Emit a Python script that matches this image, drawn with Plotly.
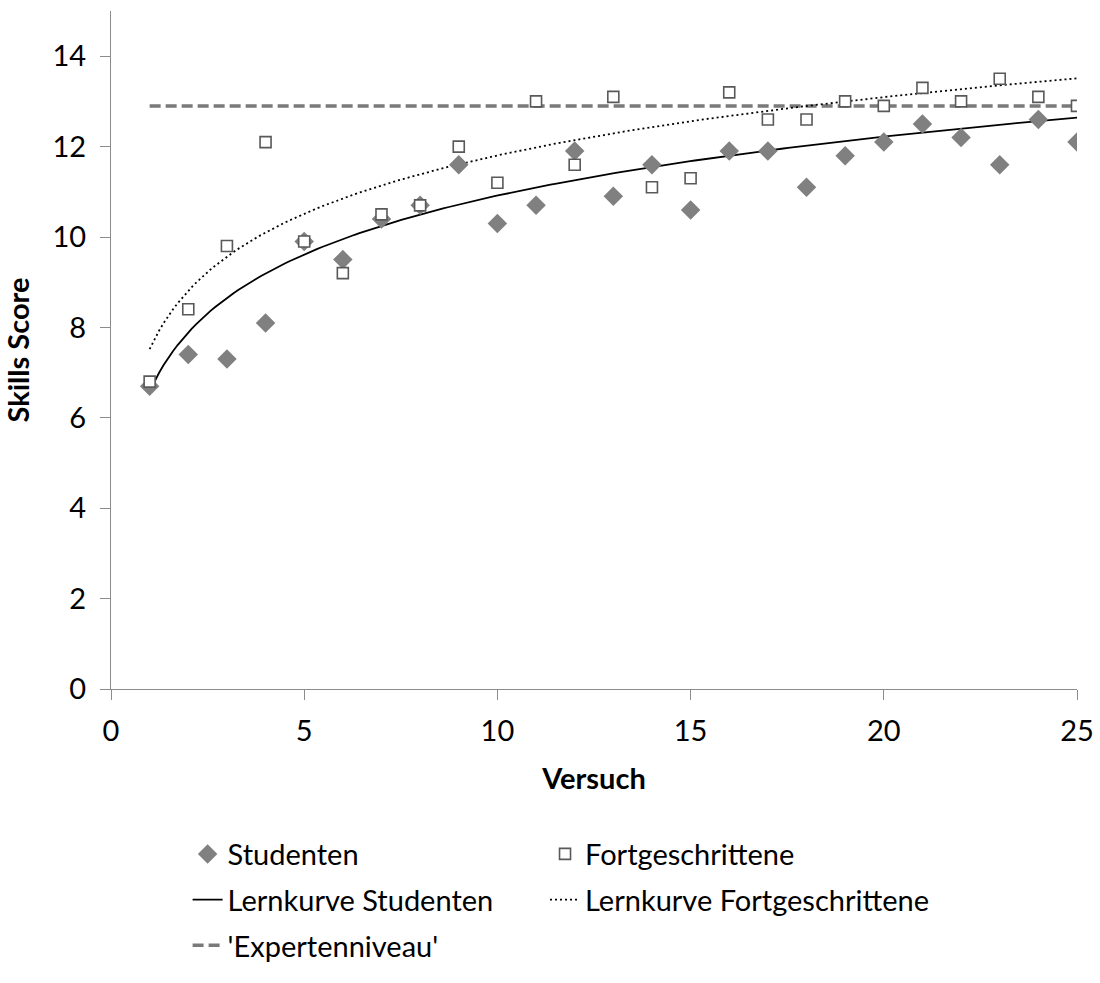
import numpy as np
import plotly.graph_objects as go

versuch = list(range(1, 26))
studenten = [6.7, 7.4, 7.3, 8.1, 9.9, 9.5, 10.4, 10.7, 11.6, 10.3, 10.7, 11.9, 10.9,
             11.6, 10.6, 11.9, 11.9, 11.1, 11.8, 12.1, 12.5, 12.2, 11.6, 12.6, 12.1]
fortgeschrittene = [6.8, 8.4, 9.8, 12.1, 9.9, 9.2, 10.5, 10.7, 12.0, 11.2, 13.0, 11.6, 13.1,
                    11.1, 11.3, 13.2, 12.6, 12.6, 13.0, 12.9, 13.3, 13.0, 13.5, 13.1, 12.9]
experten_x = [1, 25]
experten = [12.9, 12.9]

# logarithmic trend line coefficients (y = a*ln(x) + b)
trend_studenten = dict(a=1.881, b=6.585)
trend_fortgeschrittene = dict(a=1.861, b=7.52)

x_ticks = [0, 5, 10, 15, 20, 25]
y_ticks = [0, 2, 4, 6, 8, 10, 12, 14]

FONT = "Lato"
FS = 29


def log_curve(xs, coef):
    xx = np.linspace(min(xs), max(xs), 200)
    return xx, coef["a"] * np.log(xx) + coef["b"]


tx_s, ty_s = log_curve(versuch, trend_studenten)
tx_f, ty_f = log_curve(versuch, trend_fortgeschrittene)

fig = go.Figure()

fig.add_trace(go.Scatter(x=experten_x, y=experten, mode="lines", name="'Expertenniveau'",
                         line=dict(color="#7a7a7a", width=3.5, dash="11px,5px"),
                         legend="legend", legendgroup="g3", legendrank=3))
fig.add_trace(go.Scatter(x=tx_s, y=ty_s, mode="lines", name="Lernkurve Studenten",
                         line=dict(color="black", width=1.8),
                         legend="legend", legendgroup="g2", legendrank=2))
fig.add_trace(go.Scatter(x=tx_f, y=ty_f, mode="lines", name="Lernkurve Fortgeschrittene",
                         line=dict(color="black", width=1.8, dash="2px,3px"),
                         legend="legend2", legendgroup="g5", legendrank=5))
fig.add_trace(go.Scatter(x=versuch, y=studenten, mode="markers", name="Studenten",
                         marker=dict(symbol="diamond", size=15, color="#808080",
                                     line=dict(width=0)),
                         legend="legend", legendgroup="g1", legendrank=1))
fig.add_trace(go.Scatter(x=versuch, y=fortgeschrittene, mode="markers", name="Fortgeschrittene",
                         marker=dict(symbol="square", size=11, color="white",
                                     line=dict(width=1.6, color="#595959")),
                         legend="legend2", legendgroup="g4", legendrank=4))

axis_common = dict(showgrid=False, zeroline=False, showline=True, linecolor="#8c8c8c",
                   linewidth=1.3, ticks="outside", ticklen=10, tickcolor="#8c8c8c",
                   tickwidth=1.3, automargin=False,
                   tickfont=dict(family=FONT, size=FS, color="black"))

legend_common = dict(orientation="v", xanchor="left", yanchor="top",
                     font=dict(family=FONT, size=FS, color="black"),
                     bgcolor="rgba(0,0,0,0)", tracegroupgap=5,
                     traceorder="grouped")

fig.update_layout(
    width=1100, height=983,
    margin=dict(l=111, r=23, t=11, b=292),
    paper_bgcolor="white", plot_bgcolor="white",
    font=dict(family=FONT, size=FS, color="black"),
    xaxis=dict(range=[0, 25], tickvals=x_ticks, ticklabelstandoff=6, **axis_common,
               title=dict(text="<b>Versuch</b>", font=dict(family=FONT, size=FS), standoff=22)),
    yaxis=dict(range=[0, 15], tickvals=y_ticks, ticklabelstandoff=8, **axis_common,
               title=dict(text="<b>Skills Score</b>", font=dict(family=FONT, size=FS), standoff=14)),
    legend=dict(x=0.0793, y=-0.2058, **legend_common),
    legend2=dict(x=0.4493, y=-0.2058, **legend_common),
)

fig.write_html("out.html")
